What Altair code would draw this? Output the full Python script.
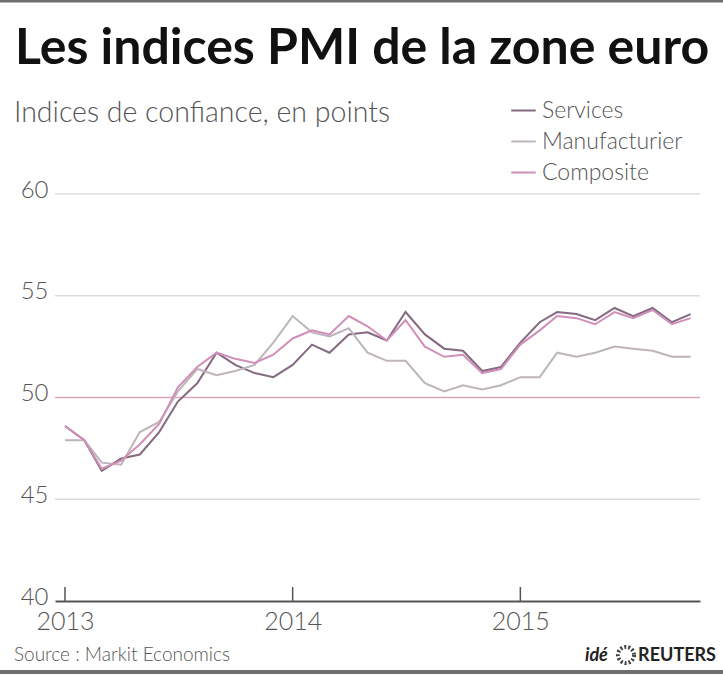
import altair as alt
import pandas as pd

# ---------------- data ----------------
months = pd.date_range("2013-01-01", periods=34, freq="MS").strftime("%Y-%m-%d").tolist()

services = [48.6, 47.9, 46.4, 47.0, 47.2, 48.3, 49.8, 50.7, 52.2, 51.6, 51.2, 51.0,
            51.6, 52.6, 52.2, 53.1, 53.2, 52.8, 54.2, 53.1, 52.4, 52.3, 51.3, 51.5,
            52.7, 53.7, 54.2, 54.1, 53.8, 54.4, 54.0, 54.4, 53.7, 54.1]
manufacturier = [47.9, 47.9, 46.8, 46.7, 48.3, 48.8, 50.3, 51.4, 51.1, 51.3, 51.6, 52.7,
                 54.0, 53.2, 53.0, 53.4, 52.2, 51.8, 51.8, 50.7, 50.3, 50.6, 50.4, 50.6,
                 51.0, 51.0, 52.2, 52.0, 52.2, 52.5, 52.4, 52.3, 52.0, 52.0]
composite = [48.6, 47.9, 46.5, 46.9, 47.7, 48.7, 50.5, 51.5, 52.2, 51.9, 51.7, 52.1,
             52.9, 53.3, 53.1, 54.0, 53.5, 52.8, 53.8, 52.5, 52.0, 52.1, 51.2, 51.4,
             52.6, 53.3, 54.0, 53.9, 53.6, 54.2, 53.9, 54.3, 53.6, 53.9]

series_names = ["Services", "Manufacturier", "Composite"]
series_colors = ["#846a81", "#bdb5bb", "#d18fb8"]

grid_values = [45, 50, 55, 60]
grid_colors = ["#dcdcdc", "#d9a6b6", "#dcdcdc", "#dcdcdc"]
y_ticks = [40, 45, 50, 55, 60]
year_ticks = ["2013-01-01", "2014-01-01", "2015-01-01"]

title_text = "Les indices PMI de la zone euro"
subtitle_text = "Indices de confiance, en points"
source_text = "Source : Markit Economics"

# ---------------- tables ----------------
rows = []
for name, vals in zip(series_names, [services, manufacturier, composite]):
    for m, v in zip(months, vals):
        rows.append({"month": m, "series": name, "value": v})
df = pd.DataFrame(rows)
df_grid = pd.DataFrame({"v": grid_values, "c": grid_colors})
df_years = pd.DataFrame({"month": year_ticks})

W, H = 645, 407
FONT = "Lato"
TXT = "#555555"

x_scale = alt.Scale(
    type="utc",
    domain=[alt.DateTime(year=2012, month=12, date=16, utc=True),
            alt.DateTime(year=2015, month=10, date=16, utc=True)],
)
y_scale = alt.Scale(domain=[40, 60], nice=False, zero=False)

x_axis = alt.Axis(
    values=[alt.DateTime(year=y, month=1, date=1, utc=True) for y in (2013, 2014, 2015)],
    format="%Y", formatType="utc", title=None, grid=False,
    domainColor="#555555", domainWidth=2, ticks=False,
    labelFont=FONT, labelFontSize=25, labelFontWeight=300, labelColor=TXT, labelPadding=8,
)
y_axis = alt.Axis(
    values=y_ticks, title=None, grid=False, domain=False, ticks=False,
    labelFont=FONT, labelFontSize=24, labelFontWeight=300, labelColor=TXT,
    labelPadding=7, labelOffset=-4,
)

lines = alt.Chart(df).mark_line(strokeWidth=2).encode(
    x=alt.X("month:T", scale=x_scale, axis=x_axis),
    y=alt.Y("value:Q", scale=y_scale, axis=y_axis),
    color=alt.Color(
        "series:N",
        scale=alt.Scale(domain=series_names, range=series_colors),
        sort=series_names,
        legend=alt.Legend(
            orient="none", legendX=455, legendY=-97, title=None,
            symbolType="stroke", symbolSize=600, symbolStrokeWidth=2,
            labelFont=FONT, labelFontSize=23, labelFontWeight=300, labelColor=TXT,
            labelOffset=5, rowPadding=5,
        ),
    ),
    detail="series:N",
)

grid = alt.Chart(df_grid).mark_rule(strokeWidth=1.5).encode(
    y=alt.Y("v:Q", scale=y_scale, axis=y_axis),
    color=alt.Color("c:N", scale=None),
)

ticks = alt.Chart(df_years).mark_rule(color="#555555", strokeWidth=1.5).encode(
    x=alt.X("month:T", scale=x_scale, axis=x_axis),
    y=alt.value(H - 14), y2=alt.value(H),
)

def text_layer(txt, x, y, size, weight="normal", color=TXT, style="normal", align="left", font=FONT):
    return alt.Chart(pd.DataFrame({"t": [txt]})).mark_text(
        align=align, baseline="alphabetic", font=font, fontSize=size,
        fontWeight=weight, fontStyle=style, color=color,
    ).encode(text="t:N", x=alt.value(x), y=alt.value(y))

title = text_layer(title_text, -40, -130, 50, weight="bold", color="#111111")
subtitle = text_layer(subtitle_text, -41, -72, 28.5, weight=300)
source = text_layer(source_text, -41, 467, 19, weight=300)
logo_ide = text_layer("idé", 530, 467, 18, weight="bold", color="#222222", style="italic")
logo_reuters = text_layer("REUTERS", 661, 467, 18, weight="bold", color="#222222", align="right")

logo_ring = alt.Chart(pd.DataFrame({"b": [0]})).mark_point(
    shape="circle", size=260, filled=False, color="#444444", strokeWidth=4,
    strokeDash=[2, 2], opacity=1,
).encode(x=alt.value(571), y=alt.value(461))

top_border = alt.Chart(pd.DataFrame({"b": [0]})).mark_rule(color="#6f6f6f", strokeWidth=3).encode(
    x=alt.value(-55), x2=alt.value(668), y=alt.value(-193),
)
bottom_border = alt.Chart(pd.DataFrame({"b": [0]})).mark_rule(color="#6f6f6f", strokeWidth=4).encode(
    x=alt.value(-55), x2=alt.value(668), y=alt.value(478),
)

chart = alt.layer(
    grid, lines, ticks, title, subtitle, source, logo_ide, logo_ring, logo_reuters,
    top_border, bottom_border
).properties(
    width=W, height=H,
    autosize=alt.AutoSizeParams(type="none"),
    padding={"left": 55, "top": 194, "right": 23, "bottom": 74},
    background="white",
).configure_view(stroke=None)

chart.save("out.html", embed_options={"renderer": "svg", "actions": False})
